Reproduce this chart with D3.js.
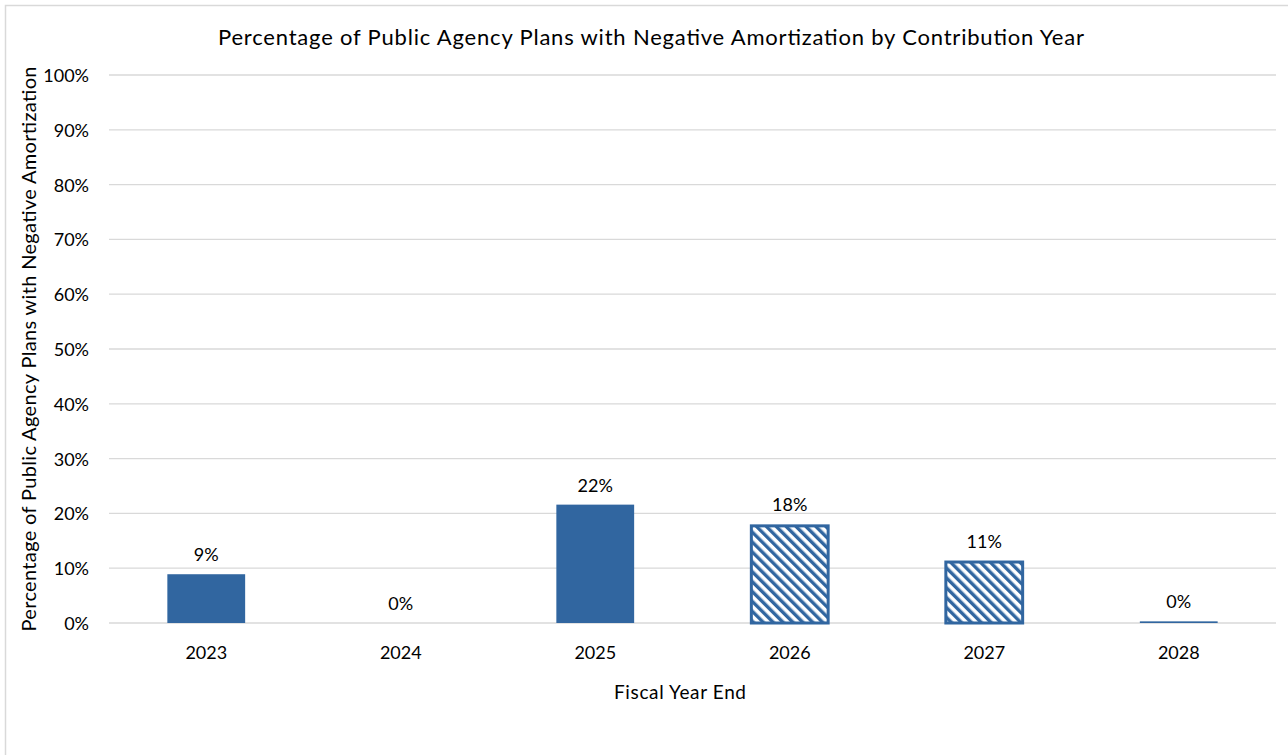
<!doctype html>
<html lang="en">
<head>
<meta charset="utf-8">
<style>
  body { margin: 0; background: #fff; }
  svg text { font-family: Lato, "Open Sans", sans-serif; fill: #000; }
</style>
</head>
<body>
<script src="https://d3js.org/d3.v7.min.js"></script>
<div id="chart"></div>
<script>
  // data
  var years = ["2023", "2024", "2025", "2026", "2027", "2028"];
  var values = [8.9, 0, 21.6, 18.0, 11.4, 0.3];
  var labels = ["9%", "0%", "22%", "18%", "11%", "0%"];
  var hatched = [false, false, false, true, true, true];
  var yTicks = [0, 10, 20, 30, 40, 50, 60, 70, 80, 90, 100];

  var width = 1288, height = 755;
  var margin = {top: 75, right: 12, bottom: 132, left: 109};
  var blue = "#3166a0";

  var svg = d3.select("#chart").append("svg")
      .attr("width", width)
      .attr("height", height);

  // outer frame
  svg.append("rect")
     .attr("x", 5.5).attr("y", 5.5)
     .attr("width", width + 20).attr("height", height + 20)
     .attr("fill", "#fff")
     .attr("stroke", "#d9d9d9")
     .attr("stroke-width", 1.5);

  // hatch pattern
  var pat = svg.append("defs").append("pattern")
      .attr("id", "hatch")
      .attr("patternUnits", "userSpaceOnUse")
      .attr("width", 7).attr("height", 7)
      .attr("patternTransform", "rotate(-45)");
  pat.append("rect").attr("width", 7).attr("height", 7).attr("fill", "#fff");
  pat.append("rect").attr("width", 3.4).attr("height", 7).attr("fill", blue);

  var x = d3.scaleBand()
      .domain(years)
      .range([margin.left, width - margin.right])
      .paddingInner(0.6)
      .paddingOuter(0.3);

  var y = d3.scaleLinear()
      .domain([0, 100])
      .range([height - margin.bottom, margin.top]);

  // gridlines
  svg.append("g")
     .selectAll("line")
     .data(yTicks)
     .enter()
     .append("line")
     .attr("x1", margin.left)
     .attr("x2", width - margin.right)
     .attr("y1", function (d) { return y(d); })
     .attr("y2", function (d) { return y(d); })
     .attr("stroke", "#d9d9d9")
     .attr("stroke-width", 1.3);

  // y axis
  var yAxis = svg.append("g")
     .attr("transform", "translate(" + (margin.left - 17) + ",0)")
     .call(d3.axisLeft(y).tickValues(yTicks).tickSize(0).tickFormat(function (d) { return d + "%"; }));
  yAxis.select(".domain").remove();
  yAxis.selectAll("text").style("font-size", "18px").attr("dy", "0.36em");

  // x axis
  var xAxis = svg.append("g")
     .attr("transform", "translate(0," + (height - margin.bottom) + ")")
     .call(d3.axisBottom(x).tickSize(0));
  xAxis.select(".domain").remove();
  xAxis.selectAll("text").style("font-size", "18px").attr("y", 36).attr("dy", 0);

  // bars
  var bw = x.bandwidth();
  svg.append("g")
     .selectAll("rect")
     .data(years)
     .enter()
     .append("rect")
     .attr("x", function (d, i) { return x(d) + (hatched[i] && values[i] > 1 ? 0.5 : 0); })
     .attr("width", function (d, i) { return bw - (hatched[i] && values[i] > 1 ? 1 : 0); })
     .attr("y", function (d, i) { return y(values[i]) + (hatched[i] && values[i] > 1 ? 1.5 : 0); })
     .attr("height", function (d, i) {
        var h = y(0) - y(values[i]);
        return hatched[i] && values[i] > 1 ? h - 1.5 : h;
     })
     .attr("fill", function (d, i) { return hatched[i] && values[i] > 1 ? "url(#hatch)" : blue; })
     .attr("stroke", function (d, i) { return hatched[i] && values[i] > 1 ? blue : "none"; })
     .attr("stroke-width", 3);

  // data labels
  svg.append("g")
     .selectAll("text")
     .data(years)
     .enter()
     .append("text")
     .attr("x", function (d) { return x(d) + bw / 2; })
     .attr("y", function (d, i) { return y(values[i]) - 13; })
     .attr("text-anchor", "middle")
     .style("font-size", "18px")
     .text(function (d, i) { return labels[i]; });

  // titles
  svg.append("text")
     .attr("x", 651).attr("y", 45)
     .attr("text-anchor", "middle")
     .attr("textLength", 866)
     .attr("lengthAdjust", "spacing")
     .style("font-size", "22px")
     .text("Percentage of Public Agency Plans with Negative Amortization by Contribution Year");

  svg.append("text")
     .attr("x", 680).attr("y", 699)
     .attr("text-anchor", "middle")
     .attr("textLength", 132)
     .attr("lengthAdjust", "spacing")
     .style("font-size", "19px")
     .text("Fiscal Year End");

  svg.append("text")
     .attr("transform", "translate(36," + y(50) + ") rotate(-90)")
     .attr("text-anchor", "middle")
     .attr("textLength", 565)
     .attr("lengthAdjust", "spacing")
     .style("font-size", "20px")
     .text("Percentage of Public Agency Plans with Negative Amortization");
</script>
</body>
</html>
